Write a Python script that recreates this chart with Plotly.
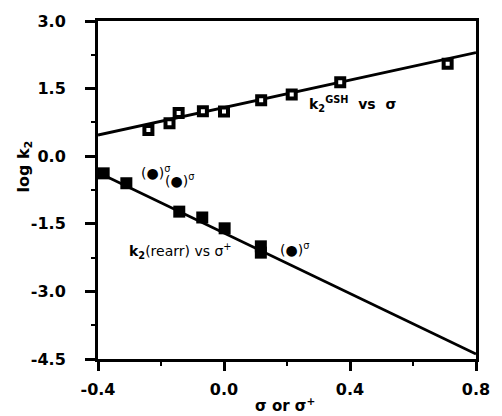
import plotly.graph_objects as go

# Data
gsh_sigma = [-0.24, -0.173, -0.144, -0.067, 0.0, 0.118, 0.215, 0.369, 0.71]
gsh_logk = [0.58, 0.73, 0.96, 1.00, 0.99, 1.24, 1.37, 1.64, 2.05]
gsh_fit_x = [-0.4, 0.8]
gsh_fit_y = [0.47, 2.30]

rearr_sigma = [-0.382, -0.31, -0.142, -0.069, 0.002, 0.117, 0.117]
rearr_logk = [-0.38, -0.60, -1.23, -1.36, -1.60, -2.00, -2.14]
rearr_fit_x = [-0.4, 0.8]
rearr_fit_y = [-0.36, -4.39]

x_ticks = [-0.4, 0.0, 0.4, 0.8]
x_ticklabels = ["-0.4", "0.0", "0.4", "0.8"]
y_ticks = [3.0, 1.5, 0.0, -1.5, -3.0, -4.5]
y_ticklabels = ["3.0", "1.5", "0.0", "-1.5", "-3.0", "-4.5"]

FONT = "DejaVu Sans, Liberation Sans, Arial, sans-serif"

fig = go.Figure()
fig.add_trace(go.Scatter(x=gsh_fit_x, y=gsh_fit_y, mode="lines",
                         line=dict(color="black", width=2.8), showlegend=False))
fig.add_trace(go.Scatter(x=rearr_fit_x, y=rearr_fit_y, mode="lines",
                         line=dict(color="black", width=2.8), showlegend=False))
fig.add_trace(go.Scatter(x=gsh_sigma, y=gsh_logk, mode="markers",
                         marker=dict(symbol="square", size=8, color="white",
                                     line=dict(color="black", width=4)),
                         showlegend=False))
fig.add_trace(go.Scatter(x=rearr_sigma, y=rearr_logk, mode="markers",
                         marker=dict(symbol="square", size=12, color="black",
                                     line=dict(color="black", width=0)),
                         showlegend=False))

annots = [
    dict(x=-0.271, y=-0.35, text="(●)<sup>σ</sup>", size=14),
    dict(x=-0.195, y=-0.52, text="(●)<sup>σ</sup>", size=14),
    dict(x=0.172, y=-2.05, text="(●)<sup>σ</sup>", size=14),
    dict(x=0.265, y=1.16, text="<b>k<sub>2</sub><sup>GSH</sup>  vs  σ</b>", size=14),
    dict(x=-0.308, y=-2.11, text="<b>k<sub>2</sub></b>(rearr) vs σ<sup>+</sup>", size=14),
]
for a in annots:
    fig.add_annotation(x=a["x"], y=a["y"], xref="x", yref="y", text=a["text"],
                       showarrow=False, xanchor="left", yanchor="middle",
                       font=dict(family=FONT, size=a["size"], color="black"))

W, H = 502, 416
ml, mr, mt, mb = 98, 12, 19.5, 57
pw, ph = W - ml - mr, H - mt - mb

def to_paper(px, py):
    return (px - ml) / pw, 1 - (py - mt) / ph

ax, ay = to_paper(22, 166)
fig.add_annotation(x=ax, y=ay, xref="paper", yref="paper", text="<b>log k<sub>2</sub></b>",
                   showarrow=False, textangle=-90, xanchor="center", yanchor="middle",
                   font=dict(family=FONT, size=16, color="black"))
bx, by = to_paper(292, 405)
fig.add_annotation(x=bx, y=by, xref="paper", yref="paper", text="<b>σ or σ<sup>+</sup></b>",
                   showarrow=False, xanchor="center", yanchor="middle",
                   font=dict(family=FONT, size=15, color="black"))

fig.update_layout(
    width=W, height=H,
    margin=dict(l=ml, r=mr, t=mt, b=mb, pad=0),
    paper_bgcolor="white", plot_bgcolor="white",
    font=dict(family=FONT, color="black"),
    xaxis=dict(range=[-0.4, 0.8], tickvals=x_ticks, ticktext=x_ticklabels,
               showgrid=False, zeroline=False, showline=True, linecolor="black",
               linewidth=3, mirror=True, ticks="outside", ticklen=9, tickwidth=2.5,
               tickcolor="black", ticklabelstandoff=5,
               tickfont=dict(family=FONT, size=16, weight="bold", color="black"),
               minor=dict(tickvals=[-0.2, 0.2, 0.6], ticks="outside", ticklen=4,
                          tickwidth=2, tickcolor="black"),
               fixedrange=True),
    yaxis=dict(range=[-4.5, 3.0], tickvals=y_ticks, ticktext=y_ticklabels,
               showgrid=False, zeroline=False, showline=True, linecolor="black",
               linewidth=3, mirror=True, ticks="outside", ticklen=10, tickwidth=2.5,
               tickcolor="black", ticklabelstandoff=16,
               tickfont=dict(family=FONT, size=16, weight="bold", color="black"),
               minor=dict(tickvals=[2.25, 0.75, -0.75, -2.25, -3.75], ticks="outside",
                          ticklen=4, tickwidth=2, tickcolor="black"),
               fixedrange=True),
)

fig.write_html("out.html")
